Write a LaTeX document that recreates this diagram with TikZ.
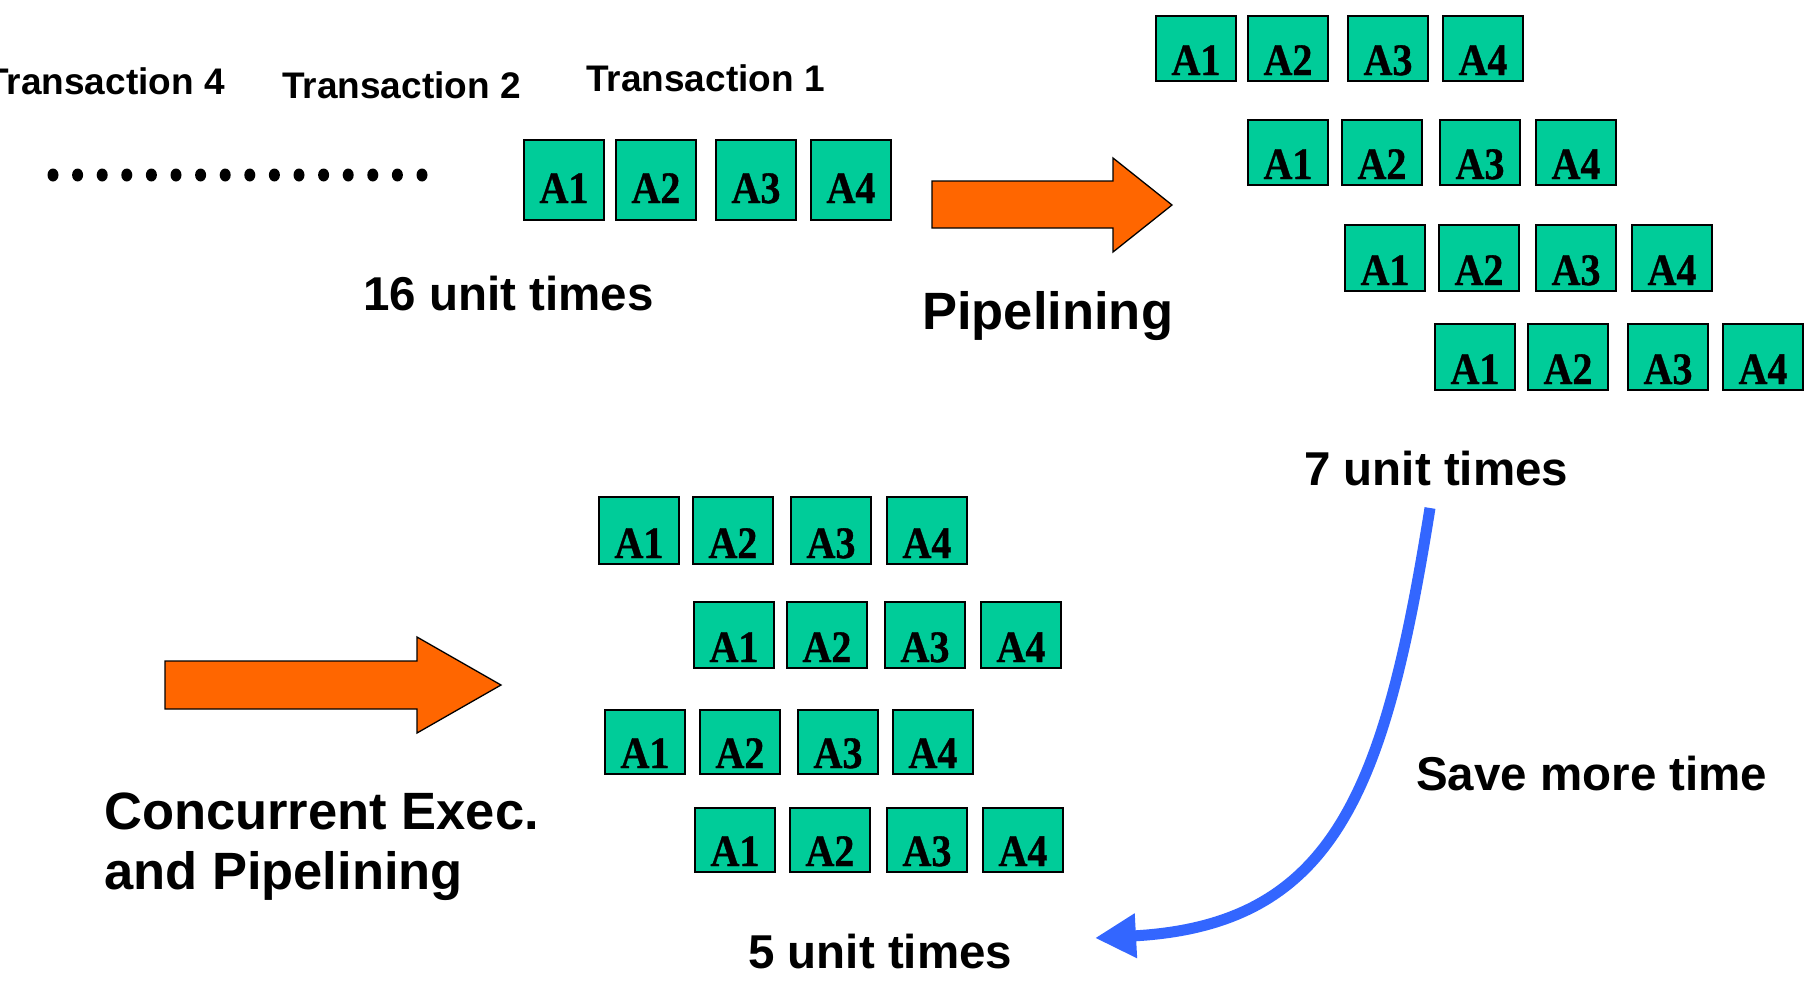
\documentclass[tikz,border=0pt]{standalone}
\usepackage{fontspec}
\newfontfamily\sansf{Liberation Sans}
\newfontfamily\seriff{Liberation Serif}[FakeStretch=0.89, BoldFeatures={FakeBold=0.8}]
\usetikzlibrary{arrows.meta}
\definecolor{boxgreen}{HTML}{00CC99}
\definecolor{arrorange}{HTML}{FF6600}
\definecolor{arrblue}{HTML}{3366FF}
\newcommand\abox[6]{%
  \node[abox, minimum height=#4pt] (#1) at (#2,#3) {};
  \node[alab] (#1t) at ([yshift=#5pt]#1.south) {#6};}
\begin{document}
\begin{tikzpicture}[x=1pt,y=-1pt,
  abox/.style={draw=black, line width=2pt, fill=boxgreen, minimum width=80pt, inner sep=0pt, anchor=north west},
  alab/.style={font=\seriff\bfseries\fontsize{45}{45}\selectfont, inner sep=0pt, anchor=base},
  tsmall/.style={font=\sansf\bfseries\fontsize{37}{44}\selectfont, inner sep=0pt, anchor=base west},
  tmid/.style={font=\sansf\bfseries\fontsize{47.5}{56}\selectfont, inner sep=0pt, anchor=base west},
  tbig/.style={font=\sansf\bfseries\fontsize{52.5}{60}\selectfont, inner sep=0pt, anchor=base west, align=left},
  fat/.style={draw=black, line width=1.3pt, fill=arrorange, line join=miter},
  dot/.style={fill=black}
]
\path[fill=white,use as bounding box] (0,0) rectangle (1805,982);

% labels
\node[tsmall] (t4) at (-14,95) {Transaction 4};
\node[tsmall] (t2) at (282,99) {Transaction 2};
\node[tsmall] (t1) at (586,92) {Transaction 1};
\node[tmid] (u16) at (363,310) {16 unit times};
\node[tbig] (pipe) at (922,329) {Pipelining};
\node[tmid] (u7) at (1304,485) {7 unit times};
\node[tmid] (save) at (1416,790) {Save more time};
\node[tmid] (u5) at (748,968) {5 unit times};
\node[tbig] (conc) at (104,889) {Concurrent Exec.\\and Pipelining};

% dots
\foreach \i in {0,...,15} {
  \fill[dot] ({53+24.6*\i},175) ellipse [x radius=5.5pt, y radius=6.5pt];
}

% sequential transaction
\abox{sa}{523}{139}{80}{18}{A1}
\abox{sb}{615}{139}{80}{18}{A2}
\abox{sc}{715}{139}{80}{18}{A3}
\abox{sd}{810}{139}{80}{18}{A4}

% pipelining grid
\abox{pa1}{1155}{15}{65}{7}{A1}
\abox{pa2}{1247}{15}{65}{7}{A2}
\abox{pa3}{1347}{15}{65}{7}{A3}
\abox{pa4}{1442}{15}{65}{7}{A4}
\abox{pb1}{1247}{119}{65}{7}{A1}
\abox{pb2}{1341}{119}{65}{7}{A2}
\abox{pb3}{1439}{119}{65}{7}{A3}
\abox{pb4}{1535}{119}{65}{7}{A4}
\abox{pc1}{1344}{224}{66}{7}{A1}
\abox{pc2}{1438}{224}{66}{7}{A2}
\abox{pc3}{1535}{224}{66}{7}{A3}
\abox{pc4}{1631}{224}{66}{7}{A4}
\abox{pd1}{1434}{323}{66}{7}{A1}
\abox{pd2}{1527}{323}{66}{7}{A2}
\abox{pd3}{1627}{323}{66}{7}{A3}
\abox{pd4}{1722}{323}{66}{7}{A4}

% concurrent grid
\abox{ca1}{598}{496}{67}{7}{A1}
\abox{ca2}{692}{496}{67}{7}{A2}
\abox{ca3}{790}{496}{67}{7}{A3}
\abox{ca4}{886}{496}{67}{7}{A4}
\abox{cb1}{693}{601}{66}{7}{A1}
\abox{cb2}{786}{601}{66}{7}{A2}
\abox{cb3}{884}{601}{66}{7}{A3}
\abox{cb4}{980}{601}{66}{7}{A4}
\abox{cc1}{604}{709}{64}{7}{A1}
\abox{cc2}{699}{709}{64}{7}{A2}
\abox{cc3}{797}{709}{64}{7}{A3}
\abox{cc4}{892}{709}{64}{7}{A4}
\abox{cd1}{694}{807}{64}{7}{A1}
\abox{cd2}{789}{807}{64}{7}{A2}
\abox{cd3}{886}{807}{64}{7}{A3}
\abox{cd4}{982}{807}{64}{7}{A4}

% orange block arrows
\draw[fat] (932,181) -- (1113,181) -- (1113,158) -- (1172,205) -- (1113,252) -- (1113,228) -- (932,228) -- cycle;
\draw[fat] (165,661) -- (417,661) -- (417,637) -- (501,685) -- (417,733) -- (417,709) -- (165,709) -- cycle;

% blue curved arrow
\coordinate (bstart) at (1430,508);
\coordinate (bend) at (1095,938);
\draw[arrblue, line width=11pt, -{Triangle[length=41pt,width=42pt]}]
  (bstart) .. controls (1385,790) and (1335,925) .. (bend);
\end{tikzpicture}
\end{document}
